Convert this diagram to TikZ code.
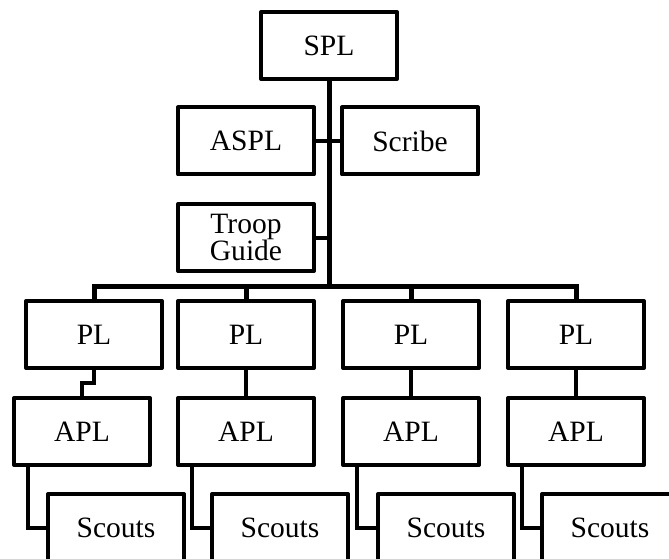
\documentclass[tikz,border=0pt]{standalone}
\usepackage{fontspec}
\setmainfont{Liberation Serif}
\usetikzlibrary{calc}
\tikzset{
	post/.style={draw, line width=0.1cm, line join=round, minimum width=3.4cm, minimum height=1.675cm, inner sep=0pt, align=center, font=\fontsize{21}{19.5}\selectfont},
	wire/.style={line width=0.1cm},
	bus/.style={line width=0.125cm}
}
\begin{document}
\begin{tikzpicture}
				%%%%% START %%%%%
				\useasboundingbox (0, 0) rectangle (16.725, -13.95);
				\clip (0, 0) rectangle (16.725, -13.95);
				
				\node[post] (spl) at (8.225, -1.1375) {SPL};
				\node[post] (aspl) at (6.15, -3.525) {ASPL};
				\node[post] (scribe) at (10.25, -3.525) {Scribe};
				\node[post] (guide) at (6.15, -5.9375) {Troop\\Guide};
				
				\node[post] (pl1) at (2.35, -8.3625) {PL};
				\node[post] (pl2) at (6.15, -8.3625) {PL};
				\node[post] (pl3) at (10.275, -8.3625) {PL};
				\node[post] (pl4) at (14.4, -8.3625) {PL};
				
				\node[post] (apl1) at (2.05, -10.7875) {APL};
				\node[post] (apl2) at (6.15, -10.7875) {APL};
				\node[post] (apl3) at (10.275, -10.7875) {APL};
				\node[post] (apl4) at (14.4, -10.7875) {APL};
				
				\node[post] (sc1) at (2.9, -13.1875) {Scouts};
				\node[post] (sc2) at (7.0, -13.1875) {Scouts};
				\node[post] (sc3) at (11.15, -13.1875) {Scouts};
				\node[post] (sc4) at (15.25, -13.1875) {Scouts};
				
				\coordinate (jn) at (8.225, -7.15);
				\draw[bus] (spl.south) -- (jn);
				\draw[wire] (aspl.east) -- (scribe.west);
				\draw[wire] (guide.east) -- (guide.east -| jn);
				
				\draw[bus] (pl1.north) |- (jn) -| (pl4.north);
				\foreach \i in {2,3}
					\draw[bus] (pl\i.north) -- (pl\i.north |- jn);
				
				\draw[wire] (pl1.south) -- ++(0, -0.325) -| (apl1.north);
				\foreach \i in {2,3,4}
					\draw[wire] (pl\i.south) -- (apl\i.north);
				
				\foreach \i in {1,...,4}
					\draw[wire] ([xshift=0.4cm]apl\i.south west) |- (sc\i.west);
				%%%%% END %%%%%
\end{tikzpicture}
\end{document}
